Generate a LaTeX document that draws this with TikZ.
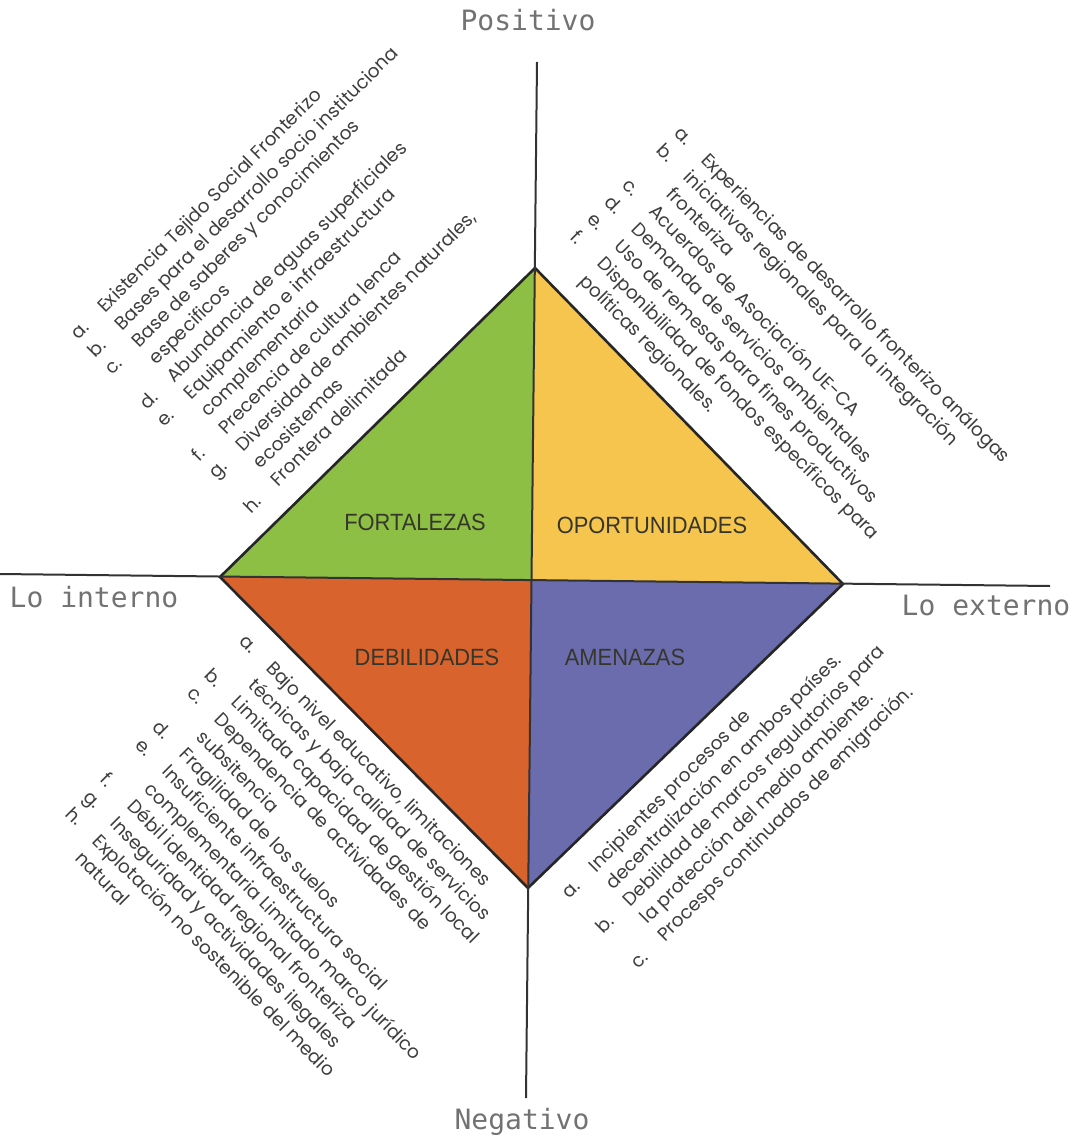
\documentclass[tikz,border=0pt]{standalone}
\usepackage{fontspec}
\setmainfont{Poppins}
\newfontfamily\capfont{Liberation Sans}
\newfontfamily\axisfont{DejaVu Sans Mono}
\definecolor{fortgreen}{HTML}{8DBF44}
\definecolor{oporyellow}{HTML}{F5C54E}
\definecolor{debiorange}{HTML}{D9632D}
\definecolor{amenblue}{HTML}{6A6CAE}
\definecolor{listgray}{HTML}{3E3E3E}
\definecolor{capgray}{HTML}{36362A}
\definecolor{axisgray}{HTML}{727272}
\newenvironment{foda}{\begin{tabular}[t]{@{}p{38pt}@{}l@{}}}{\end{tabular}}
\newcommand{\narrowcap}[1]{\scalebox{0.93}[1]{#1}}

\begin{document}
\begin{tikzpicture}[x=1pt, y=-1pt,
    listbox/.style={inner sep=0pt, anchor=base west, text=listgray, font=\fontsize{18.6}{24.5}\selectfont},
    quadlabel/.style={inner sep=0pt, text=capgray, font=\capfont\fontsize{23.5}{23.5}\selectfont},
    axislabel/.style={inner sep=0pt, text=axisgray, font=\axisfont\fontsize{28}{28}\selectfont},
    axisline/.style={line width=2pt, draw=black!80},
    rim/.style={line width=2.6pt, draw=black!85, line join=miter}]
 \useasboundingbox (0,0) rectangle (1081,1140);

 \coordinate (T) at (535,268);
 \coordinate (L) at (220,577);
 \coordinate (R) at (843,584);
 \coordinate (B) at (528,888);
 \coordinate (C) at (532,580);
 \coordinate (pos) at (537,62);
 \coordinate (neg) at (526,1098);
 \coordinate (int) at (0,574);
 \coordinate (ext) at (1050,586);

 \fill [fortgreen] (T) -- (L) -- (C) -- cycle;
 \fill [oporyellow] (T) -- (C) -- (R) -- cycle;
 \fill [debiorange] (L) -- (C) -- (B) -- cycle;
 \fill [amenblue] (C) -- (R) -- (B) -- cycle;
 \draw [rim] (T) -- (L) -- (B) -- (R) -- cycle;
 \draw [axisline] (pos) -- (neg);
 \draw [axisline] (int) -- (ext);

 \node (fortaleza) [quadlabel] at (415,522) {\narrowcap{FORTALEZAS}};
 \node (oportunidad) [quadlabel] at (652,525) {\narrowcap{OPORTUNIDADES}};
 \node (debilidad) [quadlabel] at (427,657) {\narrowcap{DEBILIDADES}};
 \node (amenaza) [quadlabel] at (625,657) {\narrowcap{AMENAZAS}};

 \node (positivo) [axislabel] at (528,20) {Positivo};
 \node (negativo) [axislabel] at (522,1122) {Negativo};
 \node (interno) [axislabel] at (94,597) {Lo interno};
 \node (externo) [axislabel] at (986,605) {Lo externo};

 \node (fortlist) [listbox, rotate=45] at (78,341) {\begin{foda}
  a. & Existencia Tejido Social Fronterizo\\
  b. & Bases para el desarrollo socio instituciona\\
  c. & Base de saberes y conocimientos\\
     & especificos\\
  d. & Abundancia de aguas superficiales\\
  e. & Equipamiento e infraestructura\\
     & complementaria\\
  f. & Precencia de cultura lenca\\
  g. & Diversidad de ambientes naturales,\\
     & ecosistemas\\
  h. & Frontera delimitada\\
 \end{foda}};

 \node (oporlist) [listbox, rotate=-45] at (673,134) {\begin{foda}
  a. & Experiencias de desarrollo fronterizo análogas\\
  b. & iniciativas regionales para la integración\\
     & fronteriza\\
  c. & Acuerdos de Asociación UE-CA\\
  d. & Demanda de servicios ambientales\\
  e. & Uso de remesas para fines productivos\\
  f. & Disponibilidad de fondos específicos para\\
     & políticas regionales.\\
 \end{foda}};

 \node (debilist) [listbox, rotate=-45] at (238,642) {\begin{foda}
  a. & Bajo nivel educativo, limitaciones\\
     & técnicas y baja calidad de servicios\\
  b. & Limitada capacidad de gestión local\\
  c. & Dependencia de actividades de\\
     & subsitencia\\
  d. & Fragilidad de los suelos\\
  e. & Insuficiente infraestructura social\\
     & complementaria Limitado marco jurídico\\
  f. & Débil identidad regional fronteriza\\
  g. & Inseguridad y actividades ilegales\\
  h. & Explotación no sostenible del medio\\
     & natural\\
 \end{foda}};

 \node (amenlist) [listbox, rotate=45] at (569,900) {\begin{foda}
  a. & Incipientes procesos de\\
     & decentralización en ambos países.\\
  b. & Debilidad de marcos regulatorios para\\
     & la protección del medio ambiente.\\
  c. & Procesps continuados de emigración.\\
 \end{foda}};
\end{tikzpicture}
\end{document}
